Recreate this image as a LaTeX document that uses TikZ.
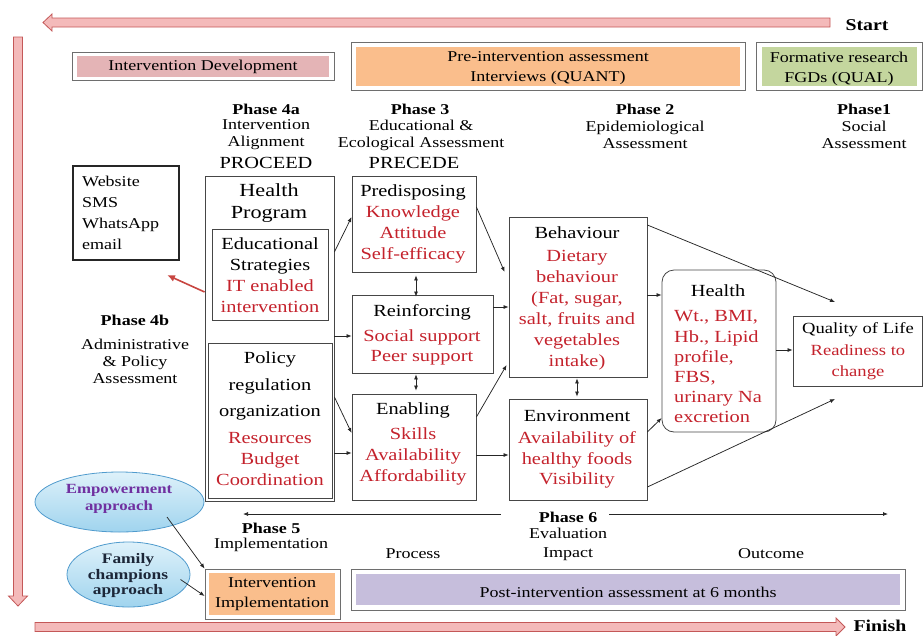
\documentclass[tikz,border=0pt]{standalone}
\usepackage{fontspec}
\setmainfont{Liberation Serif}[FakeStretch=1.2]
\usetikzlibrary{arrows.meta,shapes.geometric,fit}

\definecolor{redtxt}{RGB}{196,34,44}
\definecolor{boxgray}{RGB}{70,70,70}
\definecolor{framegray}{RGB}{110,110,110}
\definecolor{arrowfill}{RGB}{244,186,186}
\definecolor{arrowedge}{RGB}{196,88,88}
\definecolor{devfill}{RGB}{228,180,182}
\definecolor{orangefill}{RGB}{250,190,140}
\definecolor{greenfill}{RGB}{196,214,158}
\definecolor{lavfill}{RGB}{198,190,220}
\definecolor{ellTop}{RGB}{222,241,250}
\definecolor{ellBot}{RGB}{160,212,238}
\definecolor{ellEdge}{RGB}{80,155,205}
\definecolor{purpletxt}{RGB}{112,48,160}
\definecolor{navytxt}{RGB}{28,38,56}
\definecolor{linkred}{RGB}{200,70,65}

\newcommand{\fsz}[2]{\fontsize{#1}{#2}\selectfont}
\newcommand{\rd}[1]{\textcolor{redtxt}{#1}}

\tikzset{
  box/.style={draw=boxgray, line width=0.8pt, inner sep=0pt},
  framebox/.style={draw=framegray, line width=0.8pt, inner sep=0pt},
  txt/.style={inner sep=0pt, align=center},
  bodytxt/.style={txt, font=\fsz{17}{21}},
  phasehead/.style={txt, font=\bfseries\fsz{15}{17}},
  phasetxt/.style={txt, font=\fsz{15}{17}},
  tiptip/.tip={Latex[length=5pt,width=4pt]},
  arr/.style={draw=black!85, line width=0.75pt, -tiptip},
  darr/.style={draw=black!85, line width=0.75pt, tiptip-tiptip},
  bigarrow/.style={fill=arrowfill, draw=arrowedge, line width=0.8pt, line join=miter},
  approach/.style={ellipse, draw=ellEdge, line width=0.8pt, top color=ellTop, bottom color=ellBot, inner sep=0pt}
}

\begin{document}
\begin{tikzpicture}[x=1pt,y=-1pt]
\useasboundingbox (0,0) rectangle (923,635);

% ---------- the three process arrows ----------
\filldraw[bigarrow] (830,18) -- (52,18) -- (52,14) -- (43,22.5) -- (52,31) -- (52,27) -- (830,27) -- cycle;
\filldraw[bigarrow] (13.5,37) -- (22.5,37) -- (22.5,596) -- (27.5,596) -- (18,606) -- (8.5,596) -- (13.5,596) -- cycle;
\filldraw[bigarrow] (35,622.5) -- (836,622.5) -- (836,618) -- (845,627) -- (836,636) -- (836,631.5) -- (35,631.5) -- cycle;
\node[txt, font=\bfseries\fsz{16.5}{18}] (start) at (867,25) {Start};
\node[txt, font=\bfseries\fsz{16.5}{18}] (finish) at (880,626) {Finish};

% ---------- top banners ----------
\node[framebox, fit={(72,52)(334,80)}] (devo) {};
\fill[devfill] (77,56) rectangle (329,77);
\node[txt, font=\fsz{15}{20}] at (203,66.5) {Intervention Development};

\node[framebox, fit={(351,42)(745,90)}] (preint) {};
\fill[orangefill] (356,47) rectangle (740,86);
\node[txt, font=\fsz{15}{20}] at (548,68.5) {Pre-intervention assessment\\Interviews (QUANT)};

\node[framebox, fit={(756,42)(922,90)}] (form) {};
\fill[greenfill] (762,47) rectangle (917,86);
\node[txt, font=\fsz{15}{20}] at (839,68.5) {Formative research\\FGDs (QUAL)};

% ---------- phase headings ----------
\node[phasehead] at (266,109) {Phase 4a};
\node[phasetxt] at (266,135) {Intervention\\Alignment};
\node[txt, font=\fsz{17}{20}] at (266,163) {PROCEED};

\node[phasehead] at (420,109) {Phase 3};
\node[phasetxt] at (421,135) {Educational \&\\Ecological Assessment};
\node[txt, font=\fsz{17}{20}] at (414,163) {PRECEDE};

\node[phasehead] at (645,109) {Phase 2};
\node[phasetxt] at (645,135) {Epidemiological\\Assessment};

\node[phasehead] at (864,109) {Phase1};
\node[phasetxt] at (864,135) {Social\\Assessment};

\node[phasehead] at (135,320) {Phase 4b};
\node[phasetxt] at (135,361) {Administrative\\\& Policy\\Assessment};

% ---------- media box ----------
\node[draw=black!85, line width=2pt, inner sep=0pt, fit={(73,166)(179,260)}] (web) {};
\node[inner sep=0pt, align=left, font=\fsz{15}{21}, anchor=west] at (82,213) {Website\\SMS\\WhatsApp\\email};

% ---------- PROCEED column ----------
\node[box, fit={(205,176)(334,501)}] (hp) {};
\node[txt, font=\fsz{18.5}{22}] at (269,203) {Health\\Program};
\node[box, fit={(212,229)(328,320)}] (edu) {};
\node[bodytxt] at (270,275) {Educational\\Strategies\\\rd{IT enabled}\\\rd{intervention}};
\node[box, fit={(208,343)(332,498)}] (pol) {};
\node[txt, font=\fsz{17}{26.5}] at (270,386) {Policy\\regulation\\organization};
\node[bodytxt] at (270,459) {\rd{Resources}\\\rd{Budget}\\\rd{Coordination}};

% ---------- PRECEDE column ----------
\node[box, fit={(352,176)(476,272)}] (pre) {};
\node[bodytxt] at (413,224) {Predisposing\\\rd{Knowledge}\\\rd{Attitude}\\\rd{Self-efficacy}};
\node[box, fit={(352,295)(493,373)}] (rein) {};
\node[bodytxt] at (422,312) {Reinforcing};
\node[txt, font=\fsz{17}{20}] at (422,347) {\rd{Social support}\\\rd{Peer support}};
\node[box, fit={(352,394)(476,500)}] (ena) {};
\node[bodytxt] at (413,410) {Enabling};
\node[bodytxt] at (413,456) {\rd{Skills}\\\rd{Availability}\\\rd{Affordability}};

% ---------- epidemiological column ----------
\node[box, fit={(509,217)(647,377)}] (beh) {};
\node[bodytxt] at (577,233) {Behaviour};
\node[bodytxt] at (577,310) {\rd{Dietary}\\\rd{behaviour}\\\rd{(Fat, sugar,}\\\rd{salt, fruits and}\\\rd{vegetables}\\\rd{intake)}};
\node[box, fit={(509,399)(647,500)}] (env) {};
\node[bodytxt] at (577,416) {Environment};
\node[txt, font=\fsz{17}{20.5}] at (577,460) {\rd{Availability of}\\\rd{healthy foods}\\\rd{Visibility}};

\node[box, rounded corners=12pt, fit={(662,270)(776,432)}] (hlt) {};
\node[bodytxt] at (718,291) {Health};
\node[inner sep=0pt, align=left, font=\fsz{17}{20.2}, anchor=west] at (674,367) {\rd{Wt., BMI,}\\\rd{Hb., Lipid}\\\rd{profile,}\\\rd{FBS,}\\\rd{urinary Na}\\\rd{excretion}};

\node[box, fit={(793,316)(922,386)}] (qol) {};
\node[txt, font=\fsz{15.5}{21}] at (858,330) {Quality of Life};
\node[txt, font=\fsz{15.5}{21}] at (858,362) {\rd{Readiness to}\\\rd{change}};

% ---------- connectors ----------
\draw[arr] (hp.east |- 0,252) -- (pre.west |- 0,217);
\draw[arr] (hp.east |- 0,336) -- (rein.west |- 0,336);
\draw[arr] (hp.east |- 0,397) -- (ena.west |- 0,433);
\draw[arr] (hp.east |- 0,453) -- (ena.west |- 0,453);
\draw[darr] (pre.south -| 416,0) ++(0,3) -- ([yshift=-2pt]rein.north -| 416,0);
\draw[darr] ([yshift=-1pt]rein.south -| 416,0) -- ([yshift=3pt]ena.north -| 416,0);
\draw[arr] (pre.east |- 0,207) -- ([xshift=-4pt]beh.west |- 0,272);
\draw[arr] (rein.east |- 0,307) -- (beh.west |- 0,307);
\draw[arr] (ena.east |- 0,417) -- ([xshift=-2pt]beh.west |- 0,365);
\draw[arr] (ena.east |- 0,455) -- (env.west |- 0,455);
\draw[darr] ([yshift=-1pt]beh.south -| 577,0) -- ([yshift=2pt]env.north -| 577,0);
\draw[arr] (beh.east |- 0,295) -- (hlt.west |- 0,295);
\draw[arr] (env.east |- 0,432) -- (hlt.west |- 0,418);
\coordinate (qolA) at (835,302);
\coordinate (qolB) at (835,399);
\draw[arr] (beh.east |- 0,225) -- (qolA);
\draw[arr] (env.east |- 0,487) -- (qolB);
\draw[arr] (hlt.east |- 0,350) -- (qol.west |- 0,350);

% link to delivery channels
\coordinate (webin) at (167,275);
\draw[draw=linkred, line width=1.6pt, -{Latex[length=8pt,width=7pt]}] (hp.west |- 0,292) -- (webin);

% ---------- implementation / evaluation ----------
\node[approach, minimum width=169pt, minimum height=60pt] (emp) at (119.5,502) {};
\node[txt, font=\bfseries\fsz{14}{17}, text=purpletxt] at (119,499) {Empowerment\\approach};
\node[approach, minimum width=123pt, minimum height=65pt] (fam) at (128.5,574.5) {};
\node[txt, font=\bfseries\fsz{14.5}{15.5}, text=navytxt] at (128,576) {Family\\champions\\approach};

\node[framebox, fit={(205,569)(340,619)}] (impl) {};
\fill[orangefill] (209,573) rectangle (335,615);
\node[txt, font=\fsz{15}{20}] at (272,594) {Intervention\\Implementation};

\node[framebox, fit={(351,569)(905,610)}] (post) {};
\fill[lavfill] (356,574) rectangle (900,605);
\node[txt, font=\fsz{15}{20}] at (628,592) {Post-intervention assessment at 6 months};

\draw[arr] ([shift={(47.5,15)}]emp.center) -- (impl.north west);
\draw[arr] ([shift={(52,5)}]fam.center) -- (impl.west |- 0,596);

\node[phasehead] (ph6) at (568,517) {Phase 6};
\coordinate (p5end) at (243,514);
\coordinate (p6end) at (888,514);
\draw[arr] ([xshift=-38pt]ph6.west |- 0,514) -- (p5end);
\draw[arr] ([xshift=12pt]ph6.east |- 0,514) -- (p6end);
\node[txt, font=\fsz{15}{19}] at (568,544.5) {Evaluation\\Impact};

\node[phasehead] at (271,528) {Phase 5};
\node[phasetxt] at (271,545) {Implementation};
\node[phasetxt] at (413,554) {Process};
\node[phasetxt] at (771,554) {Outcome};
\end{tikzpicture}
\end{document}
